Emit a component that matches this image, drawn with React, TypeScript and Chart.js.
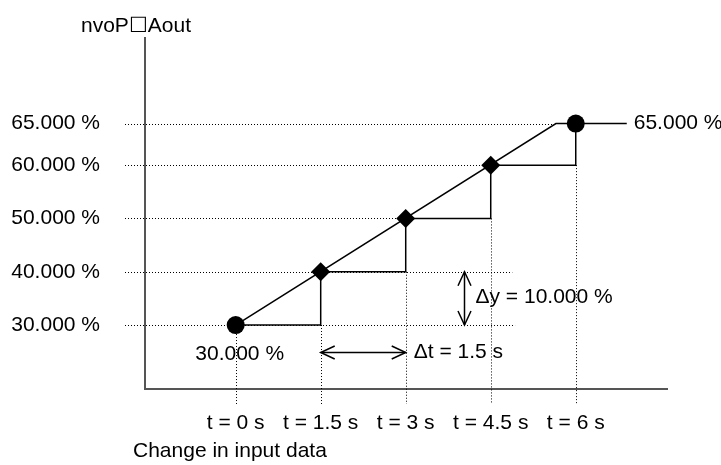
import React, { useEffect, useRef } from "react";
import { Chart, registerables } from "chart.js";

Chart.register(...registerables);

// ---- data ----
const timeValues = [0, 1.5, 3, 4.5, 6];
const timeLabels = ["t = 0 s", "t = 1.5 s", "t = 3 s", "t = 4.5 s", "t = 6 s"];
const levelLabels = ["30.000 %", "40.000 %", "50.000 %", "60.000 %", "65.000 %"];
// height of each level on the diagram's (not-to-scale) vertical axis
const levelValues = [30, 40, 50, 60, 67.8];
// time at which each dotted level guide stops
const guideEnds = [4.93, 4.88, 3, 4.5, 5.65];
// ramped output (diagonal, then holding the final value)
const rampTimes = [0, 5.65, 6.9];
const rampValues = [30, 67.8, 67.8];
const startLabel = "30.000 %";
const endLabel = "65.000 %";
const deltaTFrom = 1.5;
const deltaTTo = 3;
const deltaTLevel = 25;
const deltaTLabel = "\u0394t = 1.5 s";
const deltaYFrom = 30;
const deltaYTo = 40;
const deltaYTime = 4.02;
const deltaYLabel = "\u0394y = 10.000 %";
const yTitle = "nvoP\u2610Aout";
const xTitle = "Change in input data";

const FONT_FAMILY = '"Liberation Sans", Arial, Helvetica, sans-serif';
const FONT_SIZE = 21;

export default function App() {
  const canvasRef = useRef<HTMLCanvasElement | null>(null);

  useEffect(() => {
    const canvas = canvasRef.current;
    if (!canvas) return;

    const circlePts = [
      { x: timeValues[0], y: levelValues[0] },
      { x: timeValues[timeValues.length - 1], y: levelValues[levelValues.length - 1] },
    ];
    const diamondPts = timeValues.slice(1, -1).map((t, i) => ({ x: t, y: levelValues[i + 1] }));
    const rampPts = rampTimes.map((t, i) => ({ x: t, y: rampValues[i] }));
    const stepPts = timeValues.map((t, i) => ({ x: t, y: levelValues[i] }));

    const diagramPlugin = {
      id: "diagram",
      beforeDatasetsDraw(chart: any) {
        const { ctx, chartArea } = chart;
        const xs = chart.scales.x;
        const ys = chart.scales.y;
        ctx.save();
        ctx.strokeStyle = "#000";
        ctx.lineWidth = 1;
        ctx.setLineDash([1, 2]);
        levelValues.forEach((v, i) => {
          const y = Math.round(ys.getPixelForValue(v)) + 0.5;
          ctx.beginPath();
          ctx.moveTo(chartArea.left - 20, y);
          ctx.lineTo(xs.getPixelForValue(guideEnds[i]), y);
          ctx.stroke();
        });
        timeValues.forEach((t, i) => {
          const x = Math.round(xs.getPixelForValue(t)) + 0.5;
          ctx.beginPath();
          ctx.moveTo(x, ys.getPixelForValue(levelValues[Math.max(i - 1, 0)]));
          ctx.lineTo(x, chartArea.bottom + 15);
          ctx.stroke();
        });
        ctx.restore();
      },
      afterDatasetsDraw(chart: any) {
        const { ctx, chartArea } = chart;
        const xs = chart.scales.x;
        const ys = chart.scales.y;
        const font = `${FONT_SIZE}px ${FONT_FAMILY}`;

        const arrow = (x1: number, y1: number, x2: number, y2: number) => {
          const ang = Math.atan2(y2 - y1, x2 - x1);
          const L = 14;
          const W = 6.5;
          const head = (x: number, y: number, a: number) => {
            const cx = Math.cos(a);
            const sx = Math.sin(a);
            ctx.beginPath();
            ctx.moveTo(x + L * cx - W * sx, y + L * sx + W * cx);
            ctx.lineTo(x, y);
            ctx.lineTo(x + L * cx + W * sx, y + L * sx - W * cx);
            ctx.stroke();
          };
          ctx.beginPath();
          ctx.moveTo(x1, y1);
          ctx.lineTo(x2, y2);
          ctx.stroke();
          head(x1, y1, ang);
          head(x2, y2, ang + Math.PI);
        };

        ctx.save();
        ctx.strokeStyle = "#000";
        ctx.lineWidth = 1.5;
        ctx.setLineDash([]);

        // delta t arrow
        const dtY = Math.round(ys.getPixelForValue(deltaTLevel)) + 0.5;
        const dtX1 = xs.getPixelForValue(deltaTFrom);
        const dtX2 = xs.getPixelForValue(deltaTTo);
        arrow(dtX1, dtY, dtX2, dtY);

        // delta y arrow
        const dyX = Math.round(xs.getPixelForValue(deltaYTime)) + 0.5;
        const dyY1 = ys.getPixelForValue(deltaYFrom);
        const dyY2 = ys.getPixelForValue(deltaYTo);
        arrow(dyX, dyY1, dyX, dyY2);

        ctx.fillStyle = "#000";
        ctx.font = font;

        ctx.textAlign = "left";
        ctx.textBaseline = "middle";
        ctx.fillText(deltaTLabel, dtX2 + 8, dtY);
        ctx.fillText(deltaYLabel, dyX + 11, (dyY1 + dyY2) / 2 - 1);

        // end value label
        ctx.fillText(
          endLabel,
          xs.getPixelForValue(rampTimes[rampTimes.length - 1]) + 7,
          ys.getPixelForValue(rampValues[rampValues.length - 1])
        );

        // start value label
        ctx.textAlign = "center";
        ctx.fillText(
          startLabel,
          xs.getPixelForValue(timeValues[0]) + 4,
          ys.getPixelForValue(levelValues[0]) + 29
        );

        // axis titles
        ctx.textAlign = "center";
        ctx.textBaseline = "alphabetic";
        ctx.fillText(yTitle, chartArea.left - 9, chartArea.top - 6.5);
        ctx.textAlign = "left";
        ctx.textBaseline = "middle";
        ctx.fillText(xTitle, chartArea.left - 12, chartArea.bottom + 62);
        ctx.restore();
      },
    };

    const tickFont = { family: FONT_FAMILY, size: FONT_SIZE, lineHeight: 1.2 };

    const chart = new Chart(canvas, {
      type: "line",
      data: {
        datasets: [
          {
            label: "start/end",
            data: circlePts,
            showLine: false,
            pointStyle: "circle",
            pointRadius: 9,
            pointBackgroundColor: "#000",
            pointBorderColor: "#000",
            pointBorderWidth: 0,
          },
          {
            label: "intermediate",
            data: diamondPts,
            showLine: false,
            pointStyle: "rectRot",
            pointRadius: 9.5,
            pointBackgroundColor: "#000",
            pointBorderColor: "#000",
            pointBorderWidth: 0,
          },
          {
            label: "ramp",
            data: rampPts,
            borderColor: "#000",
            borderWidth: 1.5,
            pointRadius: 0,
            fill: false,
          },
          {
            label: "output",
            data: stepPts,
            stepped: "before",
            borderColor: "#000",
            borderWidth: 1.5,
            pointRadius: 0,
            fill: false,
          },
        ],
      } as any,
      options: {
        responsive: false,
        animation: false,
        devicePixelRatio: 1,
        events: [],
        layout: { padding: { top: 38, right: 54, left: 0, bottom: 0 } },
        plugins: {
          legend: { display: false },
          tooltip: { enabled: false },
        },
        scales: {
          x: {
            type: "linear",
            min: -1.6,
            max: 7.61,
            afterBuildTicks: (s: any) => {
              s.ticks = timeValues.map((v) => ({ value: v }));
            },
            afterFit: (s: any) => {
              s.height = 76;
              s.paddingLeft = 0;
              s.paddingRight = 0;
            },
            ticks: {
              autoSkip: false,
              maxRotation: 0,
              padding: 22,
              color: "#000",
              font: tickFont,
              callback: (v: any) => {
                const i = timeValues.indexOf(Number(v));
                return i >= 0 ? timeLabels[i] : "";
              },
            },
            grid: { display: false, drawTicks: false },
            border: { display: true, color: "#555", width: 2 },
          },
          y: {
            type: "linear",
            min: 18,
            max: 83.85,
            afterBuildTicks: (s: any) => {
              s.ticks = levelValues.map((v) => ({ value: v }));
            },
            afterFit: (s: any) => {
              s.width = 145;
              s.paddingTop = 0;
              s.paddingBottom = 0;
            },
            ticks: {
              padding: 45,
              color: "#000",
              font: tickFont,
              callback: (v: any) => {
                const i = levelValues.indexOf(Number(v));
                return i >= 0 ? levelLabels[i] : "";
              },
            },
            grid: { display: false, drawTicks: false },
            border: { display: true, color: "#555", width: 2 },
          },
        },
      } as any,
      plugins: [diagramPlugin],
    });

    return () => {
      chart.destroy();
    };
  }, []);

  return (
    <div
      style={{
        position: "fixed",
        left: 0,
        top: 0,
        width: 721,
        height: 465,
        background: "#fff",
      }}
    >
      <canvas ref={canvasRef} width={721} height={465} style={{ display: "block" }} />
    </div>
  );
}
